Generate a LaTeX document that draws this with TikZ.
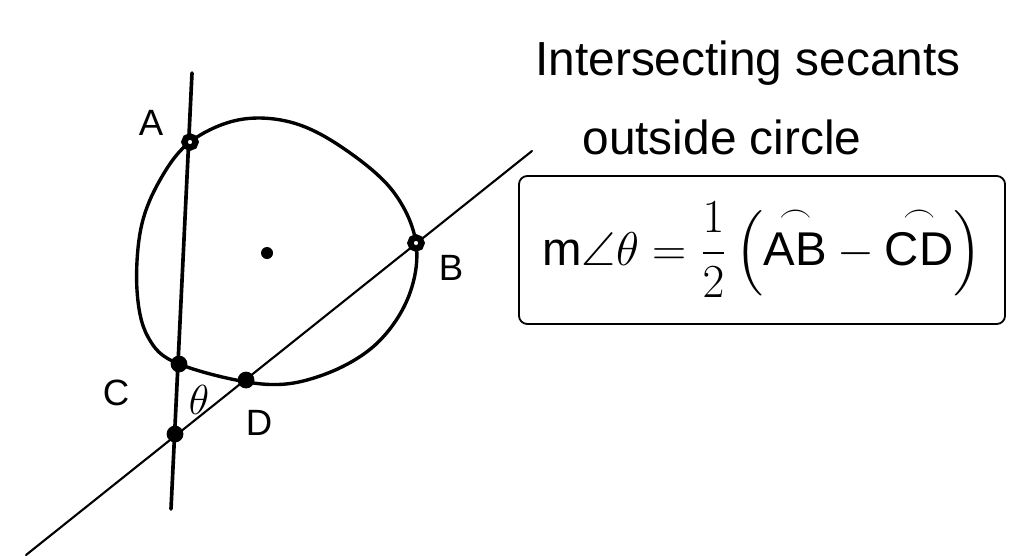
\documentclass[tikz,border=0pt]{standalone}
\usepackage{amsmath,amssymb,graphicx}
\usepackage{fontspec}
\setmainfont{Liberation Sans}
\usepackage{tikz}
\usetikzlibrary{positioning}

\begin{document}
\begin{tikzpicture}[x=0.025cm, y=-0.025cm,
        chordline/.style={line width=2.6pt, line cap=round},
        secline/.style={line width=1.5pt, line cap=round},
        rimline/.style={line width=2.4pt},
        dotpt/.style={circle, fill, inner sep=0pt, minimum size=0.42cm},
        ringpt/.style={circle, draw, fill=white, line width=4.5pt, inner sep=0pt, minimum size=0.28cm},
        ptlbl/.style={font=\fontsize{26}{30}\selectfont},
        hand/.style={font=\fontsize{34}{40}\selectfont, anchor=base, inner sep=1pt},
        formbox/.style={rectangle, rounded corners=6pt, draw, line width=1.3pt,
                        minimum width=12.15cm, minimum height=3.7cm,
                        font=\LARGE}
      ]
        \useasboundingbox (0,0) rectangle (1010,558);
        \draw[rimline] plot[smooth cycle, tension=0.6] coordinates {
          (190,142) (238,120) (290,122) (340,146) (392,190) (416,243)
          (408,298) (374,346) (320,376) (262,384) (179,364) (148,337)
          (137,290) (141,228) (160,180)};
        \coordinate (vtop) at (192,73);
        \coordinate (vbot) at (171,509);
        \coordinate (stop) at (532,151);
        \coordinate (sbot) at (26,555);
        \draw[chordline] (vtop) -- (vbot);
        \draw[secline] (sbot) -- (stop);
        \node[ringpt] (A) at (190,142) {};
        \node[ringpt] (B) at (416,243) {};
        \node[dotpt] (C) at (179,364) {};
        \node[dotpt] (D) at (246,380) {};
        \node[dotpt] (P) at (175,434) {};
        \node[circle, fill, inner sep=0pt, minimum size=0.3cm] (O) at (267,253) {};
        \node[ptlbl] (Alb) at (151,123) {A};
        \node[ptlbl] (Blb) at (451,268) {B};
        \node[ptlbl] (Clb) at (116,393) {C};
        \node[ptlbl] (Dlb) at (259,423) {D};
        \node[ptlbl] (tlb) at (199,400) {\scalebox{1.2}{$\theta$}};
        \node[hand] (title) at (748,75) {Intersecting secants};
        \node[hand] (subtitle) at (722,154) {outside circle};
        \node[formbox] (rule) at (762,250)
          {\scalebox{1.95}{$\displaystyle \text{m}\angle\theta=\frac{1}{2}\left(\overset{\frown}{\text{AB}}-\overset{\frown}{\text{CD}}\right)$}};
      \end{tikzpicture}
\end{document}
